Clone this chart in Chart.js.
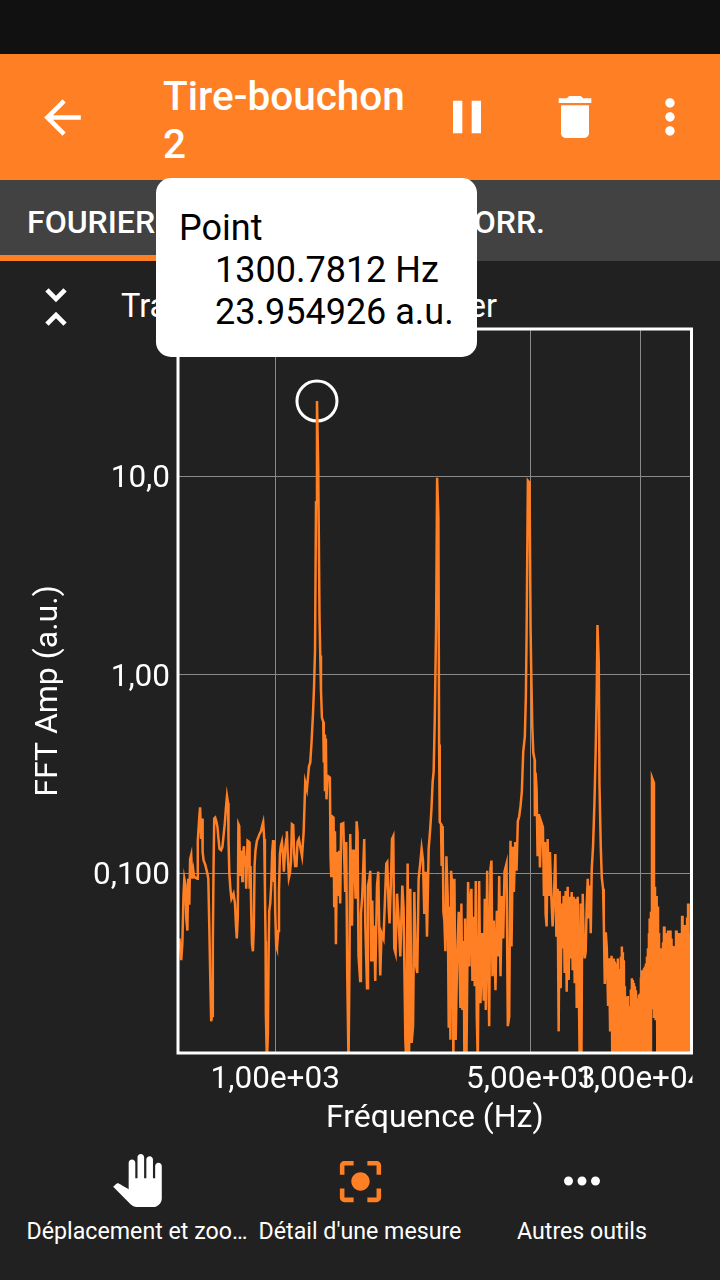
<!DOCTYPE html>
<html lang="fr">
<head>
<meta charset="utf-8">
<title>Tire-bouchon 2</title>
<script src="https://cdn.jsdelivr.net/npm/chart.js@4"></script>
<style>
html, body { margin: 0; padding: 0; }
body { width: 720px; height: 1280px; background: #212121; font-family: Roboto, sans-serif; color: #fff; overflow: hidden; position: relative; }
div, svg, canvas { position: absolute; }
#statusBar { left: 0; top: 0; width: 720px; height: 54px; background: #111; }
#appBar { left: 0; top: 54px; width: 720px; height: 126px; background: #ff7f24; }
#appTitle { left: 163px; top: 18px; width: 270px; font-size: 40.5px; font-weight: 500; line-height: 48px; }
#tabBar { left: 0; top: 180px; width: 720px; height: 81px; background: #424242; }
#tabLine { left: 0; top: 75px; width: 240px; height: 6px; background: #ff7f24; }
.tab { top: 23px; font-size: 32px; font-weight: 500; white-space: nowrap; }
#plotTitle { left: 121px; top: 287px; font-size: 32.5px; white-space: nowrap; }
#wrap { left: 0; top: 0; width: 720px; height: 1145px; }
#tip { left: 156px; top: 178px; width: 321px; height: 179px; background: #fff; border-radius: 15px; color: #000; font-size: 36px; line-height: 42px; }
#tip div { white-space: nowrap; }
.navLabel { top: 1217px; font-size: 23.2px; white-space: nowrap; transform: translateX(-50%); }
</style>
</head>
<body>
<div id="statusBar"></div>
<div id="appBar">
  <div id="appTitle">Tire-bouchon<br>2</div>
  <svg style="left:35px;top:36px" width="55" height="55" viewBox="0 0 24 24" fill="#fff"><path d="M20 11H7.83l5.59-5.59L12 4l-8 8 8 8 1.41-1.41L7.83 13H20v-2z"/></svg>
  <svg style="left:439px;top:35px" width="56" height="56" viewBox="0 0 24 24" fill="#fff"><path d="M6 19h4V5H6v14zm8-14v14h4V5h-4z"/></svg>
  <svg style="left:547px;top:35px" width="56" height="56" viewBox="0 0 24 24" fill="#fff"><path d="M6 19c0 1.1.9 2 2 2h8c1.1 0 2-.9 2-2V7H6v12zM19 4h-3.5l-1-1h-5l-1 1H5v2h14V4z"/></svg>
  <svg style="left:642px;top:35px" width="56" height="56" viewBox="0 0 24 24" fill="#fff"><path d="M12 8c1.1 0 2-.9 2-2s-.9-2-2-2-2 .9-2 2 .9 2 2 2zm0 2c-1.1 0-2 .9-2 2s.9 2 2 2 2-.9 2-2-.9-2-2-2zm0 6c-1.1 0-2 .9-2 2s.9 2 2 2 2-.9 2-2-.9-2-2-2z"/></svg>
</div>
<div id="tabBar">
  <div class="tab" style="left:27px">FOURIER</div>
  <div class="tab" style="right:175px">AUTOCORR.</div>
  <div id="tabLine"></div>
</div>
<svg style="left:28px;top:279px" width="56" height="56" viewBox="0 0 24 24" fill="#fff"><path d="M7.41 18.59L8.83 20 12 16.83 15.17 20l1.41-1.41L12 14l-4.59 4.59zm9.18-13.18L15.17 4 12 7.17 8.83 4 7.41 5.41 12 10l4.59-4.59z"/></svg>
<div id="plotTitle">Transformation de Fourier</div>

<div id="wrap"><canvas id="fftChart" width="720" height="1145"></canvas></div>

<div id="tip">
  <div style="left:23px;top:29px">Point</div>
  <div style="left:59px;top:71px">1300.7812 Hz</div>
  <div style="left:59px;top:113px">23.954926 a.u.</div>
</div>

<svg style="left:111px;top:1154px" width="53" height="53" viewBox="0 0 24 24" fill="#fff"><path d="M23 5.5V20c0 2.2-1.8 4-4 4h-7.3c-1.08 0-2.1-.43-2.85-1.19L1 14.83s1.26-1.23 1.3-1.25c.22-.19.49-.29.79-.29.22 0 .42.06.6.16.04.01 4.31 2.46 4.31 2.46V4c0-.83.67-1.5 1.5-1.5S11 3.17 11 4v7h1V1.5c0-.83.67-1.5 1.5-1.5S15 .67 15 1.5V11h1V2.5c0-.83.67-1.5 1.5-1.5s1.5.67 1.5 1.5V11h1V5.5c0-.83.67-1.5 1.5-1.5s1.5.67 1.5 1.5z"/></svg>
<svg style="left:333px;top:1154px" width="55" height="55" viewBox="0 0 24 24" fill="#ff7f24"><path d="M12 8c-2.21 0-4 1.79-4 4s1.79 4 4 4 4-1.79 4-4-1.79-4-4-4zm-7 7H3v4c0 1.1.9 2 2 2h4v-2H5v-4zM5 5h4V3H5c-1.1 0-2 .9-2 2v4h2V5zm14-2h-4v2h4v4h2V5c0-1.1-.9-2-2-2zm0 16h-4v2h4c1.1 0 2-.9 2-2v-4h-2v4z"/></svg>
<svg style="left:555px;top:1154px" width="54" height="54" viewBox="0 0 24 24" fill="#fff"><path d="M6 10c-1.1 0-2 .9-2 2s.9 2 2 2 2-.9 2-2-.9-2-2-2zm12 0c-1.1 0-2 .9-2 2s.9 2 2 2 2-.9 2-2-.9-2-2-2zm-6 0c-1.1 0-2 .9-2 2s.9 2 2 2 2-.9 2-2-.9-2-2-2z"/></svg>
<div class="navLabel" style="left:137px">Déplacement et zoo…</div>
<div class="navLabel" style="left:360px">Détail d'une mesure</div>
<div class="navLabel" style="left:582px">Autres outils</div>

<script>
/* Data */
const freqHz = [
    547, 553, 557, 561, 564, 568, 571, 575, 578, 582,
    585, 589, 593, 597, 600, 612, 614, 620, 623, 627,
    631, 633, 637, 644, 652, 656, 660, 664, 668, 672,
    675, 678, 681, 685, 690, 695, 699, 704, 711, 717,
    722, 728, 733, 738, 743, 745, 749, 754, 759, 769,
    776, 781, 785, 790, 793, 797, 802, 808, 813, 816,
    821, 826, 829, 833, 840, 848, 851, 856, 860, 864,
    869, 874, 878, 883, 891, 898, 906, 914, 921, 927,
    933, 937, 941, 943, 949, 955, 959, 963, 969, 975,
    981, 987, 992, 996, 1000, 1006, 1011, 1019, 1024, 1030,
    1036, 1043, 1050, 1056, 1065, 1072, 1076, 1083, 1090, 1097,
    1104, 1111, 1120, 1127, 1134, 1143, 1151, 1161, 1171, 1184,
    1196, 1203, 1208, 1221, 1229, 1237, 1247, 1257, 1268, 1277,
    1285, 1293, 1301, 1311, 1322, 1328, 1334, 1342, 1353, 1358,
    1364, 1368, 1376, 1381, 1388, 1399, 1411, 1417, 1423, 1429,
    1444, 1450, 1457, 1466, 1475, 1485, 1496, 1506, 1515, 1535,
    1545, 1554, 1564, 1574, 1587, 1597, 1604, 1622, 1632, 1645,
    1659, 1670, 1680, 1690, 1708, 1716, 1730, 1752, 1764, 1783,
    1794, 1809, 1820, 1832, 1843, 1855, 1866, 1878, 1899, 1914,
    1926, 1938, 1954, 1978, 2000, 2013, 2026, 2043, 2055, 2073,
    2087, 2104, 2117, 2135, 2154, 2175, 2199, 2227, 2245, 2270,
    2284, 2303, 2323, 2342, 2362, 2383, 2402, 2422, 2447, 2468,
    2495, 2515, 2537, 2558, 2580, 2602, 2629, 2652, 2674, 2696,
    2713, 2731, 2755, 2773, 2795, 2808, 2819, 2842, 2853, 2872,
    2885, 2903, 2921, 2940, 2964, 2983, 3002, 3015, 3028, 3053,
    3072, 3092, 3117, 3145, 3177, 3211, 3231, 3252, 3279, 3293,
    3307, 3335, 3371, 3399, 3421, 3442, 3464, 3492, 3515, 3538,
    3560, 3583, 3614, 3644, 3683, 3720, 3744, 3768, 3801, 3849,
    3881, 3905, 3930, 3962, 3988, 4005, 4039, 4074, 4100, 4134,
    4169, 4205, 4240, 4294, 4329, 4367, 4403, 4431, 4468, 4497,
    4536, 4573, 4611, 4651, 4690, 4729, 4771, 4819, 4850, 4871,
    4912, 4964, 4996, 5018, 5050, 5082, 5124, 5134, 5156, 5189,
    5222, 5266, 5300, 5346, 5400, 5435, 5470, 5493, 5528, 5563,
    5609, 5644, 5694, 5741, 5789, 5840, 5877, 5925, 5963, 6001,
    6039, 6077, 6116, 6154, 6193, 6232, 6272, 6312, 6352, 6392,
    6433, 6473, 6514, 6555, 6597, 6639, 6681, 6723, 6766, 6809,
    6852, 6882, 6917, 6939, 6983, 7027, 7072, 7117, 7162, 7207,
    7253, 7299, 7345, 7406, 7472, 7533, 7581, 7615, 7678, 7712,
    7775, 7824, 7889, 7924, 7974, 8025, 8076, 8142, 8194, 8247,
    8320, 8361,
    8388, 8415, 8441, 8468, 8495, 8522, 8549, 8576, 8603, 8630,
    8657, 8684, 8712, 8740, 8767, 8795, 8823, 8851, 8880, 8908,
    8936, 8964, 8992, 9021, 9049, 9078, 9106, 9135, 9164, 9193,
    9222, 9251, 9281, 9310, 9340, 9370, 9399, 9429, 9459, 9489,
    9519, 9549, 9579, 9610, 9640, 9671, 9701, 9732, 9763, 9794,
    9825, 9856, 9887, 9918, 9950, 9981, 10013, 10045, 10076, 10108,
    10140, 10172, 10204, 10236, 10269, 10302, 10334, 10367, 10400, 10433,
    10466, 10499, 10532, 10555, 10579,
    10619, 10666, 10700, 10734, 10850, 10871, 10940, 10989, 11058, 11100,
    11149, 11184, 11220, 11255, 11291, 11327, 11363, 11399, 11435, 11471,
    11507, 11544, 11580, 11617, 11654, 11691, 11728, 11765, 11802, 11840,
    11877, 11915, 11952, 11990, 12028, 12066, 12105, 12143, 12181, 12220,
    12259, 12298, 12337, 12376, 12415, 12454, 12494, 12534, 12573, 12613,
    12653, 12693, 12733, 12773, 12814, 12855, 12895, 12936, 12977, 13018,
    13059, 13101, 13142, 13184, 13225, 13267, 13309, 13352, 13394, 13436,
    13479, 13521, 13564, 13607, 13650, 13693, 13737, 13780, 13824, 13868,
    13912,
];

const ampAu = [
    .047, .0365, .044, .077, .094, .0875, .0592, .0515, .094, .0695,
    .118, .124, .094, .103, .096, .094, .146, .194, .215, .149,
    .189, .128, .116, .11, .1, .094, .055, .0306, .018, .0192,
    .0452, .107, .189, .191, .183, .171, .151, .133, .131, .136,
    .154, .179, .213, .245, .226, .149, .1, .0836, .0745, .079,
    .0705, .0545, .047, .0612, .177, .173, .097, .13, .0915, .125,
    .137, .108, .122, .0836, .146, .144, .0836, .109, .0612, .044,
    .0405, .0545, .109, .13, .146, .151, .158, .163, .173, .181,
    .149, .0868, .0456, .0192, .011, .0158, .0381, .0648, .0705, .0868,
    .127, .147, .0905, .122, .064, .0432, .0419, .0512, .0815, .125,
    .137, .144, .125, .102, .134, .149, .163, .121, .095, .1,
    .114, .177, .175, .125, .109, .109, .144, .149, .136, .122,
    .161, .223, .288, .265, .304, .346, .362, .456, .623, .871,
    1.32, 7.4, 23.95, 11.4, 1.91, 1.25, .841, .609, .581, .362,
    .5, .259, .478, .236, .29, .308, .304, .122, .097, .194,
    .191, .0685, .163, .044, .128, .077, .13, .0705, .177, .179,
    .118, .0805, .144, .0315, .011, .0373, .158, .0545, .13, .13,
    .0745, .183, .161, .0385, .0287, .0625, .0762, .149, .0545, .0264,
    .0868, .094, .103, .036, .073, .036, .0545, .0287, .0868, .102,
    .0512, .0306, .05, .047, .0805, .112, .114, .068, .056, .0915,
    .149, .154, .0419, .0395, .079, .0592, .0381, .0868, .0664, .0145,
    .011, .112, .011, .0836, .014, .017, .0805, .0352, .0315, .094,
    .114, .133, .116, .0625, .102, .048, .133, .163, .206, .288,
    .326, .574, 1.74, 9.83, 6.27, .446, .181, .177, .109, .173,
    .064, .0578, .0405, .122, .077, .0167, .068, .0145, .103, .0855,
    .011, .094, .0145, .0365, .064, .021, .0705, .0205, .0456, .011,
    .0592, .011, .0905, .034, .0762, .0836, .0287, .0605, .027, .0915,
    .0192, .011, .0915, .0222, .05, .0228, .0745, .0205, .103, .017,
    .105, .116, .0303, .0578, .036, .0258, .0648, .0381, .097, .0303,
    .077, .047, .102, .112, .017, .019, .146, .0428, .136, .0805,
    .144, .103, .183, .194, .218, .259, .411, .489, .776, 1.51,
    9.5, 9.28, 1.72, 1.02, .549, .406, .375, .194, .322, .265,
    .122, .199, .107, .181, .171, .077, .144, .0625, .054, .149,
    .077, .128, .0762, .054, .077, .125, .048, .0836, .016, .0815,
    .0264, .0705, .0419, .077, .0315, .0815, .0253, .0855, .029, .0762,
    .0373, .0805, .0325, .0762, .028, .0745, .021, .0762, .0296, .011,
    .0705, .011, .0664, .079, .0456, .0373, .0405, .0705, .094, .0592,
    .0868, .05, .105, .137, .228, .435, .841, 1.78, 1.15, .28,
    .136, .0955, .0836, .0575, .0277, .0505, .0419, .0215, .0373, .016,
    .0385, .011,
    .035, .011, .0373, .011, .036, .011, .0352, .011, .0345, .011,
    .0373, .011, .033, .011, .0315, .011, .038, .011, .0428, .011,
    .04, .011, .0365, .011, .027, .011, .021, .011, .024, .011,
    .0241, .011, .0215, .011, .0199, .011, .026, .011, .0296, .011,
    .029, .011, .028, .011, .027, .011, .0258, .011, .0195, .011,
    .0235, .011, .0245, .011, .0248, .011, .03, .011, .0325, .011,
    .031, .011, .0333, .011, .034, .011, .0352, .011, .0381, .011,
    .042, .011, .05, .011, .0592,
    .0124, .064, .021, .304, .288, .0187, .0855, .0182, .077, .0124,
    .068, .011, .05, .011, .0405, .011, .042, .011, .0395, .011,
    .045, .011, .054, .011, .05, .011, .044, .011, .048, .011,
    .0515, .011, .05, .011, .0515, .011, .047, .011, .0432, .011,
    .04, .011, .0373, .011, .043, .011, .0515, .011, .05, .011,
    .05, .011, .045, .011, .0405, .011, .05, .011, .0612, .011,
    .053, .011, .0512, .011, .055, .011, .0527, .011, .06, .011,
    .0705, .011, .05, .011, .0419, .011, .042, .011, .0419, .011,
    .04,
];

const markedPoint = [1300.7812, 23.954926];

const xTickValues = [1000, 5000, 10000];
const xTickLabels = ["1,00e+03", "5,00e+03", "1,00e+04"];
const yTickValues = [0.1, 1, 10];
const yTickLabels = ["0,100", "1,00", "10,0"];

/* Frame round the plot, and the cut-off of the last x label */
const plotFrame = {
    id: "plotFrame",
    afterDraw(chart) {
        const { ctx, chartArea: a } = chart;
        ctx.save();
        ctx.fillStyle = "#212121";
        ctx.fillRect(a.right + 1, a.bottom + 3, 40, 45);
        ctx.strokeStyle = "#fff";
        ctx.lineWidth = 3;
        ctx.strokeRect(a.left, a.top, a.right - a.left, a.bottom - a.top);
        ctx.restore();
    },
};

const tickFont = { family: "Roboto", size: 31.5 };

new Chart(document.getElementById("fftChart"), {
    type: "line",
    data: {
        datasets: [
            {
                data: freqHz.map((f, i) => ({ x: f, y: ampAu[i] })),
                borderColor: "#ff7f24",
                borderWidth: 2.5,
                pointRadius: 0,
                tension: 0,
                borderJoinStyle: "miter",
            },
            {
                data: [{ x: markedPoint[0], y: markedPoint[1] }],
                showLine: false,
                pointRadius: 20,
                pointBorderWidth: 3,
                pointBorderColor: "#fff",
                pointBackgroundColor: "transparent",
                clip: false,
            },
        ],
    },
    options: {
        responsive: false,
        animation: false,
        events: [],
        layout: { padding: { top: 329, right: 28.5, left: 0, bottom: 0 } },
        plugins: { legend: { display: false }, tooltip: { enabled: false }, title: { display: false } },
        scales: {
            x: {
                type: "logarithmic",
                min: 542,
                max: 13770,
                afterBuildTicks: (s) => { s.ticks = xTickValues.map((v) => ({ value: v })); },
                afterFit: (s) => { s.height = 92; },
                ticks: {
                    color: "#fff",
                    font: tickFont,
                    autoSkip: false,
                    maxRotation: 0,
                    minRotation: 0,
                    padding: 8,
                    callback: (v, i) => xTickLabels[i],
                },
                grid: { color: "#8a8a8a", lineWidth: 1, drawTicks: false },
                border: { display: false },
                title: { display: true, text: "Fréquence (Hz)", color: "#fff", font: { family: "Roboto", size: 32 }, padding: { top: 0, bottom: 7 } },
            },
            y: {
                type: "logarithmic",
                min: 0.01245,
                max: 55.2,
                afterBuildTicks: (s) => { s.ticks = yTickValues.map((v) => ({ value: v })); },
                afterFit: (s) => { s.width = 178; },
                ticks: {
                    color: "#fff",
                    font: tickFont,
                    autoSkip: false,
                    padding: 8,
                    labelOffset: 3,
                    callback: (v, i) => yTickLabels[i],
                },
                grid: { color: "#8a8a8a", lineWidth: 1, drawTicks: false },
                border: { display: false },
                title: { display: true, text: "FFT Amp (a.u.)", color: "#fff", font: { family: "Roboto", size: 32 }, padding: { top: 30, bottom: 0 } },
            },
        },
    },
    plugins: [plotFrame],
});
</script>
</body>
</html>
